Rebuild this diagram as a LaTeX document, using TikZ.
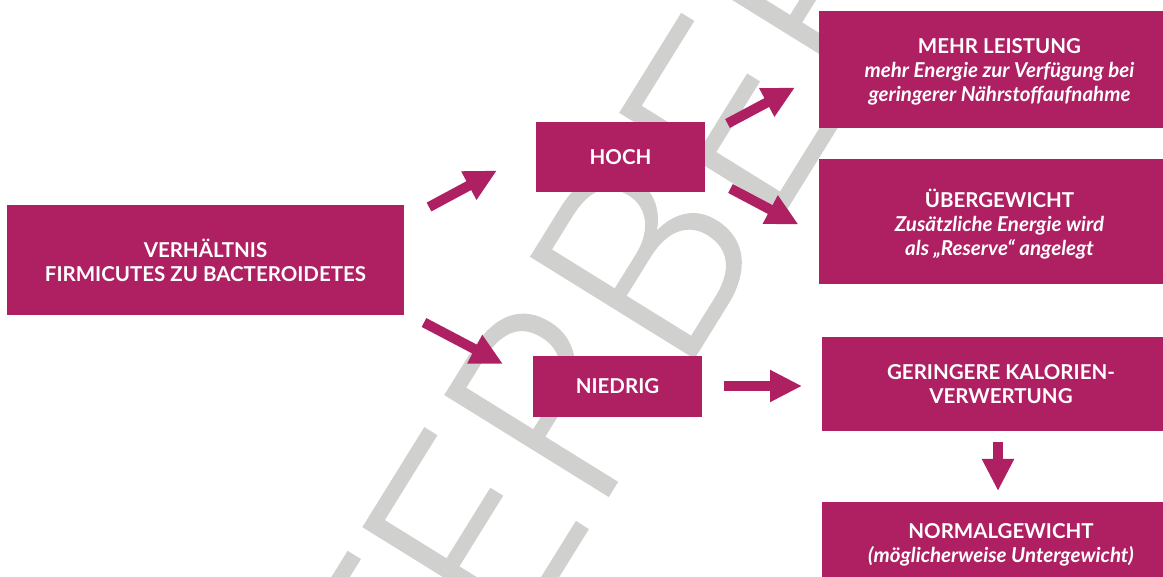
\documentclass[tikz,border=0pt]{standalone}
\usepackage{fontspec}
\setmainfont{Lato}
\newfontfamily\wmfont{Lato Light}[FakeBold=1.5]
\usetikzlibrary{arrows.meta}
\definecolor{mag}{RGB}{174,32,98}
\definecolor{wmgray}{RGB}{208,208,207}
\begin{document}
\begin{tikzpicture}[x=1pt,y=-1pt,
  box/.style={fill=mag, text=white, font=\fontsize{20.5}{24}\selectfont\bfseries, align=center, inner sep=0pt, anchor=center},
  blockarrow/.style={draw=mag, line width=10pt, -{Triangle[length=32pt,width=30pt]}},
  watermark/.style={text=wmgray, font=\wmfont\fontsize{268}{268}\selectfont, inner sep=0pt, anchor=base west, rotate=58.2}]
\useasboundingbox (0,0) rectangle (1163,577);
\clip (0,0) rectangle (1163,577);
% watermark
\node[watermark] (wm) at (679,380) {\llap{TER}BER};
% boxes
\node[box, minimum width=397pt, minimum height=110pt] (ver) at (205.5,260) {VERHÄLTNIS\\FIRMICUTES ZU BACTEROIDETES};
\node[box, minimum width=169pt, minimum height=70pt] (hoch) at (620.5,157) {HOCH};
\node[box, minimum width=169pt, minimum height=61pt] (nied) at (617.5,386.5) {NIEDRIG};
\node[box, minimum width=361pt, minimum height=117pt] (mehr) at (999.5,69.5) {\rule{0pt}{20pt}MEHR LEISTUNG\\\itshape mehr Energie zur Verfügung bei\\\itshape geringerer Nährstoffaufnahme};
\node[box, minimum width=361pt, minimum height=125pt] (uber) at (999.5,221.5) {\rule{0pt}{24pt}ÜBERGEWICHT\\\itshape Zusätzliche Energie wird\\\itshape als „Reserve“ angelegt};
\node[box, minimum width=358pt, minimum height=94pt] (ger) at (1001,384) {GERINGERE KALORIEN-\\VERWERTUNG};
\node[box, minimum width=358pt, minimum height=86pt] (norm) at (1001,545) {NORMALGEWICHT\\\itshape (möglicherweise Untergewicht)};
% arrow end points
\coordinate (a1s) at (429,207);   \coordinate (a1e) at (497,170.5);
\coordinate (a2s) at (424,322.5); \coordinate (a2e) at (503,364);
\coordinate (a3s) at (727.5,123.5); \coordinate (a3e) at (795,87.5);
\coordinate (a4s) at (730.5,188.5); \coordinate (a4e) at (798.5,224.5);
\coordinate (a5s) at (724,386);   \coordinate (a5e) at (802,386);
\coordinate (a6s) at (998,442);   \coordinate (a6e) at (998,491);
\draw[blockarrow] (a1s) -- (a1e);
\draw[blockarrow] (a2s) -- (a2e);
\draw[blockarrow] (a3s) -- (a3e);
\draw[blockarrow] (a4s) -- (a4e);
\draw[blockarrow] (a5s) -- (a5e);
\draw[blockarrow] (a6s) -- (a6e);
\end{tikzpicture}
\end{document}
